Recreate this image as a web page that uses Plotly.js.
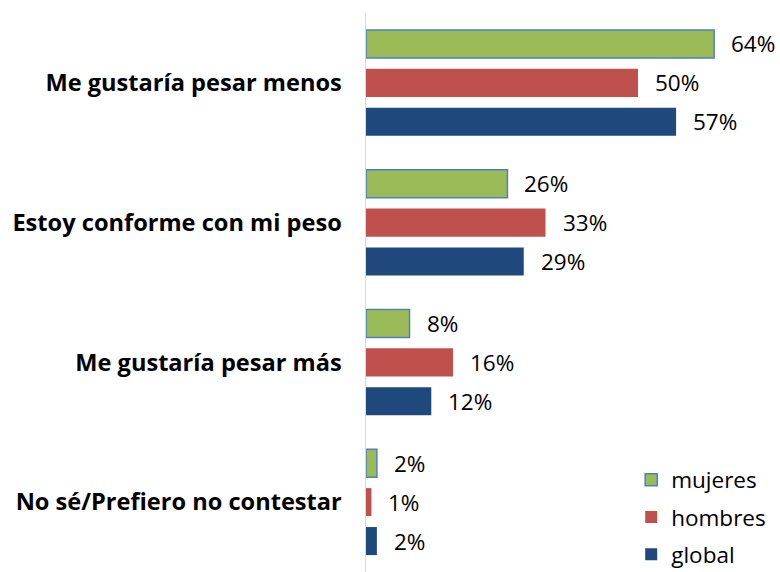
<!DOCTYPE html>
<html>
<head>
<meta charset="utf-8">
<script src="https://cdn.plot.ly/plotly-3.0.1.min.js"></script>
<style>html,body{margin:0;padding:0;background:#fff;}#chart{width:780px;height:572px;}</style>
</head>
<body>
<div id="chart"></div>
<script>
const categories = ["Me gustaría pesar menos", "Estoy conforme con mi peso", "Me gustaría pesar más", "No sé/Prefiero no contestar"];
const seriesNames = ["mujeres", "hombres", "global"];
const mujeres = [64, 26, 8, 2];
const hombres = [50, 33, 16, 1];
const global = [57, 29, 12, 2];

const FONT = "'Open Sans', 'Noto Sans', sans-serif";
const values = [mujeres, hombres, global];
const fills = ["#9BBB59", "#C0504D", "#1F497D"];
const lines = ["#4F81BD", "#C0504D", "#1F497D"];
const lineW = [1.5, 0, 0];

const traces = values.map((v, i) => ({
  type: "bar",
  orientation: "h",
  name: seriesNames[i],
  legendgroup: "g" + i,
  x: v,
  y: categories,
  marker: {color: fills[i], line: {color: lines[i], width: lineW[i]}},
  hoverinfo: "skip"
}));

const shifts = [39, 0, -39];
const annotations = [];
values.forEach((v, i) => {
  v.forEach((val, j) => {
    annotations.push({
      x: val, y: categories[j], xref: "x", yref: "y",
      text: val + "%", showarrow: false, xanchor: "left",
      xshift: 15, yshift: shifts[i],
      font: {family: FONT, size: 22.5, color: "#000"}
    });
  });
});

const layout = {
  width: 780, height: 572,
  margin: {l: 366, r: 6, t: 13, b: 0, autoexpand: false},
  paper_bgcolor: "#fff", plot_bgcolor: "#fff",
  barmode: "group",
  bargap: 0.164,
  bargroupgap: 0.28,
  showlegend: true,
  legend: {
    x: 0.65, y: 0.203, xanchor: "left", yanchor: "top",
    font: {family: FONT, size: 22.5, color: "#000"},
    tracegroupgap: 5,
    bgcolor: "rgba(0,0,0,0)"
  },
  xaxis: {range: [0, 75], visible: false, fixedrange: true},
  yaxis: {
    autorange: "reversed",
    showline: true, linecolor: "#D9D9D9", linewidth: 1.5,
    showgrid: false, zeroline: false, ticks: "",
    ticklabelstandoff: 18,
    tickfont: {family: FONT, size: 23.6, color: "#000", weight: "bold"}
  },
  annotations: annotations
};

Plotly.newPlot("chart", traces, layout, {displayModeBar: false, staticPlot: true});
</script>
</body>
</html>
